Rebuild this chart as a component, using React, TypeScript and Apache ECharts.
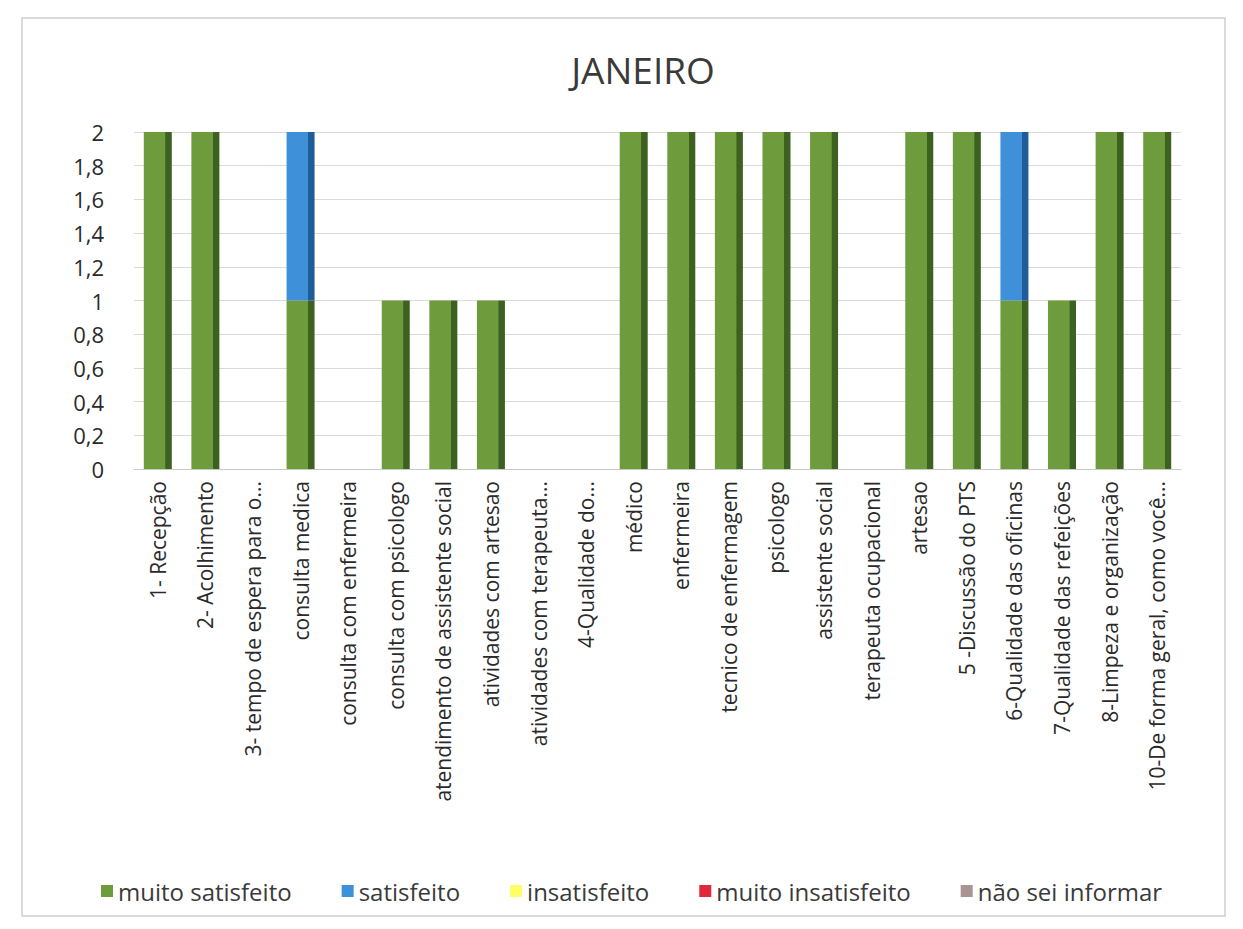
import React, { useEffect, useRef } from "react";
import * as echarts from "echarts";

const categories = [
  "1- Recepção",
  "2- Acolhimento",
  "3- tempo de espera para o...",
  "consulta medica",
  "consulta com enfermeira",
  "consulta com psicologo",
  "atendimento de assistente social",
  "atividades com artesao",
  "atividades com terapeuta...",
  "4-Qualidade do...",
  "médico",
  "enfermeira",
  "tecnico de enfermagem",
  "psicologo",
  "assistente social",
  "terapeuta ocupacional",
  "artesao",
  "5 -Discussão do PTS",
  "6-Qualidade das oficinas",
  "7-Qualidade das refeições",
  "8-Limpeza e organização",
  "10-De forma geral, como você...",
];

const muitoSatisfeito = [2, 2, 0, 1, 0, 1, 1, 1, 0, 0, 2, 2, 2, 2, 2, 0, 2, 2, 1, 1, 2, 2];
const satisfeito = [0, 0, 0, 1, 0, 0, 0, 0, 0, 0, 0, 0, 0, 0, 0, 0, 0, 0, 1, 0, 0, 0];
const insatisfeito = [0, 0, 0, 0, 0, 0, 0, 0, 0, 0, 0, 0, 0, 0, 0, 0, 0, 0, 0, 0, 0, 0];
const muitoInsatisfeito = [0, 0, 0, 0, 0, 0, 0, 0, 0, 0, 0, 0, 0, 0, 0, 0, 0, 0, 0, 0, 0, 0];
const naoSeiInformar = [0, 0, 0, 0, 0, 0, 0, 0, 0, 0, 0, 0, 0, 0, 0, 0, 0, 0, 0, 0, 0, 0];

const seriesNames = ["muito satisfeito", "satisfeito", "insatisfeito", "muito insatisfeito", "não sei informar"];
const seriesData = [muitoSatisfeito, satisfeito, insatisfeito, muitoInsatisfeito, naoSeiInformar];
const seriesColors = ["#6E9B3B", "#3E90D8", "#FFFF66", "#E0283C", "#A89494"];
const sideColors = ["#3D6120", "#1F5C98", "#C8C830", "#A01020", "#806868"];

export default function App() {
  const ref = useRef<HTMLDivElement>(null);
  useEffect(() => {
    document.body.style.margin = "0";
    const chart = echarts.init(ref.current!, null, { renderer: "svg" });
    const font = "'Open Sans', sans-serif";
    chart.setOption({
      animation: false,
      backgroundColor: "#ffffff",
      title: {
        text: "JANEIRO",
        left: 638,
        textAlign: "center",
        top: 46,
        textStyle: { fontFamily: font, fontSize: 37, fontWeight: "normal", color: "#3a3a3a" },
      },
      graphic: [
        {
          type: "rect",
          shape: { x: 22, y: 18, width: 1203, height: 898 },
          style: { fill: "none", stroke: "#D0D0D0", lineWidth: 1.5 },
          silent: true,
        },
      ],
      legend: {
        top: 874,
        left: 96,
        itemWidth: 12,
        itemHeight: 12,
        itemGap: 50,
        icon: "rect",
        textStyle: { fontFamily: font, fontSize: 24, color: "#3a3a3a" },
        data: seriesNames.map((n, i) => ({ name: n, itemStyle: { color: seriesColors[i] } })),
      },
      grid: { left: 134, right: 62, top: 132, bottom: 460, containLabel: false },
      xAxis: {
        type: "category",
        data: categories,
        axisTick: { show: false },
        axisLine: { lineStyle: { color: "#C8C8C8" } },
        axisLabel: {
          rotate: 90,
          interval: 0,
          fontFamily: font,
          fontSize: 21,
          color: "#2a2a2a",
          margin: 12,
        },
      },
      yAxis: {
        type: "value",
        min: 0,
        max: 2,
        interval: 0.2,
        axisLine: { show: false },
        axisTick: { show: false },
        splitLine: { lineStyle: { color: "#DADADA" } },
        axisLabel: {
          fontFamily: font,
          fontSize: 22,
          color: "#2a2a2a",
          margin: 30,
          formatter: (v: number) => String(Math.round(v * 10) / 10).replace(".", ","),
        },
      },
      series: seriesNames.map((name, i) => ({
        name,
        type: "bar",
        stack: "total",
        data: seriesData[i],
        barWidth: 28,
        itemStyle: {
          color: new echarts.graphic.LinearGradient(0, 0, 1, 0, [
            { offset: 0, color: seriesColors[i] },
            { offset: 0.76, color: seriesColors[i] },
            { offset: 0.78, color: sideColors[i] },
            { offset: 1, color: sideColors[i] },
          ]),
          borderWidth: 0,
        },
      })),
    });
    return () => chart.dispose();
  }, []);
  return <div ref={ref} style={{ width: 1243, height: 929 }} />;
}
